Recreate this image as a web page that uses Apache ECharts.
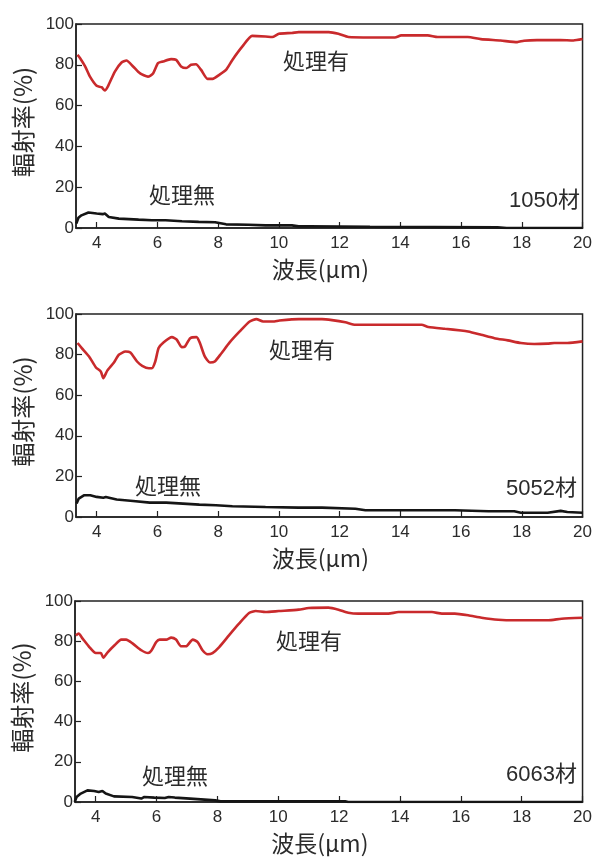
<!DOCTYPE html>
<html>
<head>
<meta charset="utf-8">
<script src="https://cdn.jsdelivr.net/npm/echarts@6/dist/echarts.min.js"></script>
<style>
  html, body { margin: 0; padding: 0; background: #fff; }
  #chart { width: 595px; height: 862px; }
</style>
</head>
<body>
<div id="chart"></div>
<script>
// Emissivity spectra (%) vs wavelength (µm) for three aluminium alloys,
// with and without surface treatment.

const xTicks = [4, 6, 8, 10, 12, 14, 16, 18, 20];
const materials = ['1050材', '5052材', '6063材'];
const treatedName = '処理有';
const untreatedName = '処理無';

// 1050 alloy, treated
const t1050X = [3.37, 3.45, 3.62, 3.78, 4.0, 4.16, 4.27, 4.38, 4.6, 4.82, 4.98, 5.2, 5.42, 5.69, 5.85, 6.02, 6.18, 6.45, 6.62, 6.78, 6.95, 7.11, 7.27, 7.44, 7.65, 7.82, 8.04, 8.26, 8.47, 8.8, 9.12, 9.56, 9.78, 10.0, 10.43, 10.65, 11.64, 11.96, 12.29, 13.05, 13.82, 14.03, 14.9, 15.23, 16.22, 16.65, 17.3, 17.85, 18.07, 18.5, 19.27, 19.7, 20.0];
const t1050Y = [84.9, 83.3, 79.2, 74.2, 69.7, 69.0, 67.4, 69.7, 76.7, 81.1, 82.1, 79.2, 75.9, 74.2, 75.6, 80.8, 81.6, 82.8, 82.4, 79.2, 78.4, 80.0, 80.3, 77.5, 73.1, 73.1, 75.1, 77.5, 82.4, 89.0, 94.2, 93.9, 93.6, 95.2, 95.6, 96.0, 96.0, 95.2, 93.6, 93.4, 93.4, 94.4, 94.4, 93.6, 93.6, 92.6, 91.9, 91.1, 91.8, 92.1, 92.1, 91.9, 92.6];
// 1050 alloy, untreated
const u1050X = [3.33, 3.4, 3.5, 3.73, 4.0, 4.2, 4.27, 4.4, 4.73, 5.38, 5.82, 6.27, 6.81, 7.36, 7.9, 8.26, 9.0, 9.56, 10.43, 10.65, 11.0, 13.0, 17.2, 17.5, 20.0];
const u1050Y = [2.2, 5.0, 6.2, 7.6, 7.1, 6.8, 7.1, 5.4, 4.6, 4.1, 3.8, 3.8, 3.3, 3.0, 2.8, 1.8, 1.6, 1.3, 1.3, 0.8, 0.8, 0.6, 0.3, 0.0, 0.0];

// 5052 alloy, treated
const t5052X = [3.37, 3.51, 3.75, 3.97, 4.14, 4.22, 4.35, 4.57, 4.73, 4.95, 5.11, 5.33, 5.5, 5.72, 5.82, 5.93, 6.04, 6.2, 6.48, 6.64, 6.8, 6.91, 7.08, 7.29, 7.4, 7.56, 7.73, 7.89, 8.11, 8.38, 8.71, 9.04, 9.26, 9.48, 9.8, 10.02, 10.66, 11.42, 11.75, 12.19, 12.52, 13.17, 13.94, 14.7, 14.92, 15.47, 16.0, 16.23, 16.66, 17.1, 17.54, 17.97, 18.41, 18.85, 19.07, 19.5, 20.0];
const t5052Y = [85.7, 83.2, 79.1, 73.8, 71.6, 68.4, 72.1, 76.1, 79.9, 81.5, 81.0, 76.6, 74.5, 73.3, 73.3, 76.6, 83.2, 86.0, 88.6, 87.3, 83.7, 84.0, 88.1, 88.6, 85.7, 79.1, 76.1, 76.6, 80.7, 86.0, 91.4, 96.3, 97.5, 96.3, 96.3, 96.8, 97.5, 97.5, 97.0, 95.9, 94.7, 94.7, 94.7, 94.7, 93.6, 92.7, 91.9, 91.4, 89.8, 88.1, 87.0, 85.7, 85.2, 85.4, 85.7, 85.7, 86.5];
// 5052 alloy, untreated
const u5052X = [3.34, 3.41, 3.58, 3.79, 4.0, 4.22, 4.3, 4.66, 5.2, 5.75, 6.29, 6.84, 7.38, 7.93, 8.47, 9.56, 10.65, 11.42, 12.52, 12.85, 13.94, 15.8, 16.9, 17.75, 17.97, 18.85, 19.28, 19.5, 20.0];
const u5052Y = [6.6, 9.1, 10.7, 10.7, 9.9, 9.5, 9.8, 8.6, 7.9, 7.1, 7.1, 6.6, 6.1, 5.8, 5.3, 4.9, 4.6, 4.6, 4.1, 3.3, 3.3, 3.3, 2.8, 2.8, 2.1, 2.1, 3.0, 2.5, 2.1];

// 6063 alloy, treated
const t6063X = [3.35, 3.44, 3.57, 3.79, 4.0, 4.17, 4.25, 4.4, 4.62, 4.84, 5.0, 5.22, 5.5, 5.72, 5.82, 5.99, 6.1, 6.32, 6.48, 6.64, 6.8, 6.97, 7.19, 7.35, 7.51, 7.68, 7.84, 8.06, 8.38, 8.71, 9.04, 9.26, 9.58, 10.02, 10.67, 11.0, 11.65, 11.98, 12.3, 12.63, 13.62, 13.95, 15.05, 15.38, 15.8, 16.24, 16.68, 17.23, 17.78, 18.87, 19.31, 20.0];
const t6063Y = [82.9, 83.8, 81.3, 77.1, 74.1, 74.1, 71.8, 74.6, 78.0, 80.8, 80.8, 78.8, 75.5, 74.1, 75.1, 79.6, 80.8, 80.8, 81.8, 80.8, 77.5, 77.5, 80.8, 79.6, 75.5, 73.5, 74.1, 77.1, 82.9, 88.7, 94.0, 95.0, 94.5, 95.0, 95.7, 96.5, 96.7, 95.7, 94.2, 93.7, 93.7, 94.5, 94.5, 93.7, 93.7, 92.9, 91.7, 90.7, 90.4, 90.4, 91.2, 91.7];
// 6063 alloy, untreated
const u6063X = [3.31, 3.37, 3.51, 3.73, 3.95, 4.1, 4.22, 4.33, 4.6, 5.2, 5.5, 5.6, 5.93, 6.27, 6.4, 6.6, 7.1, 7.16, 7.93, 8.1, 12.2, 12.3, 20.0];
const u6063Y = [0.0, 2.5, 4.2, 5.8, 5.5, 5.0, 5.5, 4.2, 2.8, 2.5, 1.7, 2.5, 2.2, 2.0, 2.5, 2.2, 1.7, 0.8, 0.8, 0.3, 0.3, 0.0, 0.0];

const treatedX = [t1050X, t5052X, t6063X];
const treatedY = [t1050Y, t5052Y, t6063Y];
const untreatedX = [u1050X, u5052X, u6063X];
const untreatedY = [u1050Y, u5052Y, u6063Y];

const zip = (xs, ys) => xs.map((x, i) => [x, ys[i]]);

const FONT = '"Liberation Sans", Arial, "Noto Sans CJK JP", sans-serif';
const CJK = '"Noto Sans CJK JP", "Liberation Sans", sans-serif';
const TEXT = '#2b2b2b';
const RED = '#c92a2c';
const BLACK = '#151515';

// panel boxes in pixels
const panels = [
  { left: 76, top: 24, width: 508, height: 204 },
  { left: 76, top: 314, width: 507, height: 203 },
  { left: 75, top: 601, width: 508, height: 201 }
];
// annotation placement for each panel
const notes = [
  { tr: [316, 61], ur: [182, 195], mat: [580, 201] },
  { tr: [302, 350], ur: [168, 486], mat: [577, 489] },
  { tr: [309, 641], ur: [175, 776], mat: [577, 775] }
];

const grids = [], xAxes = [], yAxes = [], series = [], graphics = [];
panels.forEach((p, i) => {
  grids.push({ left: p.left, top: p.top, width: p.width, height: p.height,
    show: true, borderColor: '#222', borderWidth: 1.5, backgroundColor: 'transparent' });
  xAxes.push({
    type: 'value', gridIndex: i, min: 3.32, max: 20,
    name: '波長(μm)', nameLocation: 'middle', nameGap: 30,
    nameTextStyle: { fontFamily: CJK, fontSize: 23, color: TEXT, padding: [0, 18, 0, 0] },
    axisLine: { show: true, onZero: false, lineStyle: { color: '#222', width: 1.5 } },
    axisTick: { show: true, inside: true, length: 6, customValues: xTicks, lineStyle: { color: '#222', width: 1.2 } },
    axisLabel: { customValues: xTicks, fontFamily: FONT, fontSize: 17, color: TEXT, margin: 7 },
    splitLine: { show: false }
  });
  yAxes.push({
    type: 'value', gridIndex: i, min: 0, max: 100, interval: 20,
    name: '輻射率(%)', nameLocation: 'middle', nameGap: 37, nameRotate: 90,
    nameTextStyle: { fontFamily: CJK, fontSize: 24, color: TEXT, padding: [0, 0, 0, 8] },
    axisLine: { show: true, lineStyle: { color: '#222', width: 1.5 } },
    axisTick: { show: true, inside: true, length: 6, lineStyle: { color: '#222', width: 1.2 } },
    axisLabel: { fontFamily: FONT, fontSize: 17, color: TEXT, margin: 2 },
    splitLine: { show: false }
  });
  series.push({
    name: treatedName + i, type: 'line', xAxisIndex: i, yAxisIndex: i,
    data: zip(treatedX[i], treatedY[i]), showSymbol: false, smooth: 0.2,
    lineStyle: { color: RED, width: 2.6 }, z: 3
  });
  series.push({
    name: untreatedName + i, type: 'line', xAxisIndex: i, yAxisIndex: i,
    data: zip(untreatedX[i], untreatedY[i]), showSymbol: false,
    lineStyle: { color: BLACK, width: 2.6 }, z: 4
  });
  const n = notes[i];
  graphics.push({ type: 'text', x: n.tr[0], y: n.tr[1],
    style: { text: treatedName, font: '22px ' + CJK, fill: TEXT, align: 'center', verticalAlign: 'middle' } });
  graphics.push({ type: 'text', x: n.ur[0], y: n.ur[1],
    style: { text: untreatedName, font: '22px ' + CJK, fill: TEXT, align: 'center', verticalAlign: 'middle' } });
  graphics.push({ type: 'text', x: n.mat[0], y: n.mat[1],
    style: { text: materials[i], font: '22px ' + FONT, fill: TEXT, align: 'right', verticalAlign: 'middle' } });
});

const chart = echarts.init(document.getElementById('chart'), null, { renderer: 'canvas' });
chart.setOption({
  animation: false,
  backgroundColor: '#fff',
  grid: grids,
  xAxis: xAxes,
  yAxis: yAxes,
  series: series,
  graphic: graphics
});
</script>
</body>
</html>
